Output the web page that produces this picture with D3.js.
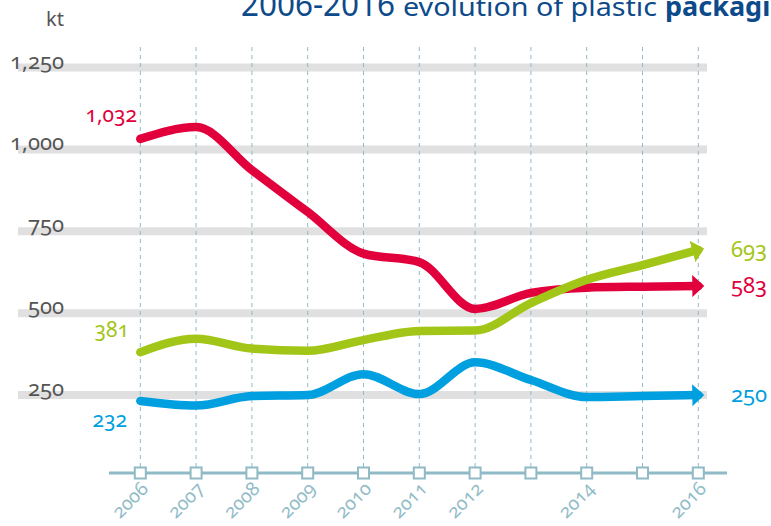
<!DOCTYPE html>
<html><head><meta charset="utf-8">
<script src="https://cdn.jsdelivr.net/npm/d3@7"></script>
<style>
html,body{margin:0;padding:0;background:#fff;overflow:hidden}
svg{display:block}
text{font-family:"Noto Sans","Open Sans",sans-serif}
.num{font-variant-numeric:oldstyle-nums;font-feature-settings:"onum" 1}
</style></head>
<body>
<svg id="c" width="771" height="526"></svg>
<script>
const years = [2006,2007,2008,2009,2010,2011,2012,2013,2014,2015,2016];
const tickLabels = ["2006","2007","2008","2009","2010","2011","2012","","2014","","2016"];
const yTicks = [250,500,750,1000,1250];
const seriesNames = ["red","green","blue"];
const redValues   = [1032,1068,937,809,682,656,513,562,578,581,583];
const greenValues = [381,422,392,385,418,446,447,531,602,647,693];
const blueValues  = [232,218,247,250,314,253,350,296,244,247,250];
const colors = {red:"#e2003c", green:"#a2c617", blue:"#009fe0"};
const startLabels = {red:"1,032", green:"381", blue:"232"};
const endLabels = {red:"583", green:"693", blue:"250"};

const svg = d3.select("#c");
const x = d3.scalePoint().domain(years).range([140.3,698.3]);
const y = d3.scaleLinear().domain([0,1250]).range([477,67.5]);
const fmt = d3.format(",");

// gridline bands
svg.append("g").selectAll("line").data(yTicks).join("line")
  .attr("x1",18).attr("x2",707)
  .attr("y1",d=>y(d)).attr("y2",d=>y(d))
  .attr("stroke","#e0e0e0").attr("stroke-width",8);

// y labels
svg.append("g").selectAll("text").data(yTicks).join("text")
  .attr("class","num")
  .attr("x",64).attr("y",d=>y(d)+1)
  .attr("text-anchor","end")
  .attr("fill","#555").attr("font-size",22)
  .text(d=>fmt(d));

// dashed verticals
svg.append("g").selectAll("line").data(years).join("line")
  .attr("x1",d=>x(d)).attr("x2",d=>x(d))
  .attr("y1",47).attr("y2",468)
  .attr("stroke","#8fbac6").attr("stroke-width",1)
  .attr("stroke-dasharray","4,4");

// x axis line
const axisY = 473;
svg.append("line").attr("x1",109).attr("x2",727).attr("y1",axisY).attr("y2",axisY)
  .attr("stroke","#8fbac6").attr("stroke-width",3);
svg.append("g").selectAll("rect").data(years).join("rect")
  .attr("x",d=>x(d)-5.5).attr("y",axisY-5.5).attr("width",11).attr("height",11)
  .attr("fill","#fff").attr("stroke","#8fbac6").attr("stroke-width",2);

// x tick labels
svg.append("g").selectAll("text").data(years).join("text")
  .attr("class","num")
  .attr("transform",d=>`translate(${x(d)+9},${490}) rotate(-45)`)
  .attr("text-anchor","end")
  .attr("fill","#91bcc8").attr("font-size",19)
  .text((d,i)=>tickLabels[i]);

// markers
const defs = svg.append("defs");
seriesNames.forEach(n=>{
  defs.append("marker").attr("id","arr-"+n)
    .attr("markerUnits","userSpaceOnUse")
    .attr("viewBox","0 0 12 22").attr("refX",6).attr("refY",11)
    .attr("markerWidth",12).attr("markerHeight",22).attr("orient","auto")
    .append("path").attr("d","M0,0 L12,11 L0,22 Z").attr("fill",colors[n]);
});

const data = {red:redValues, green:greenValues, blue:blueValues};
const line = d3.line().x((d,i)=>x(years[i])).y(d=>y(d)).curve(d3.curveMonotoneX);

seriesNames.forEach(n=>{
  svg.append("path").attr("d",line(data[n]))
    .attr("fill","none").attr("stroke",colors[n]).attr("stroke-width",8.5)
    .attr("stroke-linecap","round").attr("stroke-linejoin","round")
    .attr("marker-end","url(#arr-"+n+")");
});

// start labels
const startPos = {red:[137,122], green:[129,337], blue:[127,427]};
seriesNames.forEach(n=>{
  svg.append("text").attr("class","num").attr("x",startPos[n][0]).attr("y",startPos[n][1])
    .attr("text-anchor","end").attr("fill",colors[n]).attr("font-size",21)
    .text(startLabels[n]);
});
// end labels
const endVals = {red:redValues[10], green:greenValues[10], blue:blueValues[10]};
seriesNames.forEach(n=>{
  svg.append("text").attr("class","num").attr("x",731).attr("y",y(endVals[n])+7)
    .attr("fill",colors[n]).attr("font-size",22)
    .text(endLabels[n]);
});

// kt
svg.append("text").attr("x",64).attr("y",26).attr("text-anchor","end")
  .attr("fill","#555").attr("font-size",20).text("kt");

// title
svg.append("text").attr("x",241).attr("y",16).attr("fill","#0d4a8a")
  .attr("font-size",32).attr("textLength",154).attr("lengthAdjust","spacingAndGlyphs")
  .text("2006-2016");
svg.append("text").attr("x",403).attr("y",16).attr("fill","#0d4a8a")
  .attr("font-size",25).attr("textLength",254).attr("lengthAdjust","spacingAndGlyphs")
  .text("evolution of plastic");
svg.append("text").attr("x",665).attr("y",16).attr("fill","#0d4a8a")
  .attr("font-size",27).attr("font-weight","bold")
  .text("packaging");
</script>
</body></html>
